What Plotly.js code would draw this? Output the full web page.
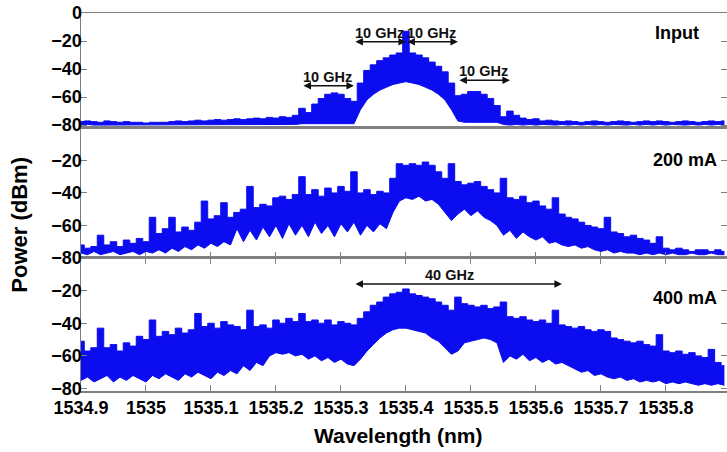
<!DOCTYPE html>
<html><head><meta charset="utf-8">
<script src="https://cdn.plot.ly/plotly-3.0.1.min.js"></script>
<style>html,body{margin:0;padding:0;background:#fff}#chart{width:727px;height:452px}</style>
</head><body><div id="chart"></div>
<script>
// Wavelength sample grid (nm)
const wavelength = [1534.90,1534.91,1534.92,1534.93,1534.94,1534.95,1534.96,1534.97,1534.98,1534.99,
1535.00,1535.01,1535.02,1535.03,1535.04,1535.05,1535.06,1535.07,1535.08,1535.09,
1535.10,1535.11,1535.12,1535.13,1535.14,1535.15,1535.16,1535.17,1535.18,1535.19,
1535.20,1535.21,1535.22,1535.23,1535.24,1535.25,1535.26,1535.27,1535.28,1535.29,
1535.30,1535.31,1535.32,1535.33,1535.34,1535.35,1535.36,1535.37,1535.38,1535.39,
1535.40,1535.41,1535.42,1535.43,1535.44,1535.45,1535.46,1535.47,1535.48,1535.49,
1535.50,1535.51,1535.52,1535.53,1535.54,1535.55,1535.56,1535.57,1535.58,1535.59,
1535.60,1535.61,1535.62,1535.63,1535.64,1535.65,1535.66,1535.67,1535.68,1535.69,
1535.70,1535.71,1535.72,1535.73,1535.74,1535.75,1535.76,1535.77,1535.78,1535.79,
1535.80,1535.81,1535.82,1535.83,1535.84,1535.85,1535.86,1535.87,1535.88,1535.89];

// Input spectrum: upper and lower envelope (dBm)
const inputUpper = [-77.5,-77,-77.5,-78,-77,-77.5,-78,-77.5,-78,-78,
-78.5,-78,-78,-78,-77.5,-77,-77.5,-77,-76.5,-77,
-76.5,-76,-76.5,-76,-75.5,-76,-75.5,-75,-75.5,-74.5,
-75,-74,-74.5,-73,-68,-71,-65,-61,-58,-57,
-58,-61,-63,-50,-41,-37,-34,-32,-30,-28.5,
-13,-28.5,-30,-32,-35,-38,-42,-50,-59,-58,
-56,-56,-58,-61,-66,-74,-70,-73,-75,-76,
-75.5,-77,-76.5,-77,-77.5,-77,-77.5,-78,-77.5,-77,
-77.5,-78,-77.5,-77,-77.5,-78,-77.5,-77,-77.5,-77,
-77.5,-78,-77.5,-77,-77.5,-78,-77.5,-77,-77.5,-77];
const inputLower = [-80,-79.5,-80,-80,-79.5,-80,-79.5,-80,-80,-79.5,
-80,-80,-79.5,-80,-79.5,-80,-80,-79.5,-80,-79.5,
-80,-79.5,-80,-79.5,-80,-79.5,-80,-79.5,-79.5,-80,
-79.5,-80,-79.5,-79.5,-79,-79,-79,-79,-79,-79,
-79,-79,-79,-69,-62,-58,-55,-53,-51,-50,
-49,-50,-51,-53,-55,-58,-62,-69,-77,-78,
-78,-78,-78,-78,-78,-79.5,-80,-79.5,-80,-79.5,
-80,-79.5,-80,-80,-79.5,-80,-79.5,-80,-79.5,-80,
-79.5,-80,-79.5,-80,-80,-79.5,-80,-79.5,-80,-79.5,
-80,-79.5,-80,-80,-79.5,-80,-79.5,-80,-79.5,-80];

// 200 mA spectrum
const mA200Upper = [-72,-74,-73,-66,-72,-70,-73,-69,-71,-68,
-70,-55,-65,-62,-55,-64,-61,-63,-58,-45,
-56,-54,-46,-55,-52,-50,-36,-49,-47,-48,
-43,-42,-44,-41,-30,-41,-38,-42,-37,-40,
-36,-39,-27,-40,-38,-41,-39,-40,-31,-22,
-23,-22,-23,-21,-23,-27,-31,-22,-33,-35,
-34,-33,-36,-38,-40,-31,-43,-44,-42,-46,
-45,-48,-50,-43,-53,-55,-56,-58,-60,-61,
-62,-55,-64,-65,-67,-66,-68,-69,-71,-67,
-74,-75,-74,-75,-76,-75,-75,-76,-75,-76];
const mA200Lower = [-77,-78,-76,-78,-77,-76,-78,-77,-76,-78,
-76,-77,-75,-77,-74,-76,-73,-75,-72,-74,
-71,-73,-70,-72,-62,-70,-63,-69,-61,-67,
-60,-68,-59,-66,-60,-67,-58,-65,-60,-67,
-59,-64,-58,-66,-60,-64,-59,-62,-52,-45,
-43,-44,-42,-45,-44,-47,-52,-57,-53,-50,
-54,-51,-55,-57,-60,-66,-63,-68,-64,-67,
-69,-67,-71,-70,-72,-73,-72,-74,-73,-75,
-76,-75,-77,-76,-77,-77,-78,-77,-78,-77,
-78,-77,-78,-78,-77,-78,-78,-77,-78,-78];

// 400 mA spectrum
const mA400Upper = [-51,-57,-55,-43,-55,-53,-57,-52,-54,-48,
-50,-38,-48,-45,-47,-43,-46,-44,-34,-42,
-40,-43,-39,-41,-42,-44,-32,-42,-41,-43,
-38,-40,-37,-39,-34,-39,-38,-40,-38,-41,
-39,-40,-41,-37,-33,-29,-27,-24,-22,-21,
-19,-22,-23,-24,-25,-27,-29,-32,-24,-28,
-29,-30,-29,-31,-30,-27,-36,-37,-36,-38,
-39,-38,-40,-32,-41,-42,-43,-42,-44,-45,
-44,-45,-49,-50,-51,-52,-51,-53,-54,-47,
-57,-58,-57,-59,-58,-60,-61,-56,-64,-66];
const mA400Lower = [-75,-73,-76,-74,-72,-76,-73,-75,-72,-74,
-76,-72,-74,-71,-73,-75,-71,-73,-70,-72,
-74,-70,-72,-69,-71,-66,-69,-64,-66,-60,
-58,-59,-58,-60,-59,-62,-60,-63,-61,-64,
-62,-65,-66,-62,-57,-53,-49,-46,-44,-43,
-43,-44,-45,-46,-49,-51,-55,-59,-57,-52,
-51,-50,-49,-50,-52,-64,-60,-62,-59,-63,
-61,-64,-62,-65,-64,-66,-68,-70,-69,-72,
-71,-73,-74,-73,-75,-74,-76,-75,-76,-75,
-77,-76,-77,-76,-77,-78,-77,-78,-77,-78];

const panelLabels = ["Input", "200 mA", "400 mA"];
const xTickVals = [1534.9,1535.0,1535.1,1535.2,1535.3,1535.4,1535.5,1535.6,1535.7,1535.8];
const xTickText = ["1534.9","1535","1535.1","1535.2","1535.3","1535.4","1535.5","1535.6","1535.7","1535.8"];
const yTickTop = [0,-20,-40,-60,-80];
const yTickLower = [-20,-40,-60,-80];

// Frequency-span markers
const spanStart = [1535.24, 1535.32, 1535.40, 1535.48, 1535.32];
const spanEnd   = [1535.32, 1535.40, 1535.48, 1535.56, 1535.64];
const spanLevel = [-52, -20.5, -20.5, -48, -16];
const spanText  = ["10 GHz","10 GHz","10 GHz","10 GHz","40 GHz"];
const spanAxis  = ["3","3","3","3",""];

const BLUE = 'rgb(12,12,240)';
const FONT = 'Liberation Sans, Arial, Helvetica, sans-serif';
const GREY = '#808080';

function band(x, lo, hi, xa, ya) {
  return [
    {x: x, y: lo, xaxis: xa, yaxis: ya, type: 'scatter', mode: 'lines',
     line: {color: BLUE, width: 1, shape: 'linear'}, hoverinfo: 'skip', showlegend: false},
    {x: x, y: hi, xaxis: xa, yaxis: ya, type: 'scatter', mode: 'lines', fill: 'tonexty',
     fillcolor: BLUE, line: {color: BLUE, width: 1, shape: 'hvh'}, hoverinfo: 'skip', showlegend: false}
  ];
}

const data = [].concat(
  band(wavelength, inputLower, inputUpper, 'x3', 'y3'),
  band(wavelength, mA200Lower, mA200Upper, 'x2', 'y2'),
  band(wavelength, mA400Lower, mA400Upper, 'x', 'y')
);

const xRange = [1534.9, 1535.894];
const tickFontX = {family: FONT, size: 18, color: '#000', weight: 'bold'};
const tickFontY = {family: FONT, size: 18, color: '#000', weight: 'bold'};

function xax(anchor, opts) {
  return Object.assign({
    anchor: anchor, range: xRange, showgrid: false, zeroline: false,
    showline: true, linecolor: GREY, linewidth: 1.5,
    tickvals: xTickVals, ticktext: xTickText, ticklen: 6, tickcolor: GREY,
    tickfont: tickFontX, ticklabelstandoff: 0
  }, opts);
}
function yax(domain, range, ticks) {
  return {
    domain: domain, range: range, showgrid: false, zeroline: false,
    showline: true, linecolor: GREY, linewidth: 1.5, mirror: 'ticks',
    ticks: 'inside', ticklen: 6, tickcolor: GREY, tickvals: ticks,
    tickfont: tickFontY, ticklabelstandoff: -6
  };
}

const annotations = [];
const labelAxes = [['y3', -14.3, -26], ['y2', -20, -8], ['y', -24.5, -8]];
panelLabels.forEach((t, k) => {
  annotations.push({xref: 'paper', x: 1, xanchor: 'right', xshift: labelAxes[k][2],
    yref: labelAxes[k][0], y: labelAxes[k][1], yanchor: 'middle', showarrow: false,
    text: t, font: {family: FONT, size: 18, color: '#000', weight: 'bold'}});
});
spanStart.forEach((s, k) => {
  const xa = 'x' + spanAxis[k], ya = 'y' + spanAxis[k];
  annotations.push({xref: xa, yref: ya, x: spanEnd[k], y: spanLevel[k],
    axref: xa, ayref: ya, ax: s, ay: spanLevel[k], text: '', showarrow: true,
    arrowside: 'end+start', arrowhead: 2, startarrowhead: 2, arrowsize: 1, startarrowsize: 1,
    arrowwidth: 1.5, arrowcolor: '#111', standoff: 0, startstandoff: 0});
  annotations.push({xref: xa, yref: ya, x: (s + spanEnd[k]) / 2, y: spanLevel[k],
    yanchor: 'bottom', yshift: -1, xshift: (k === 4 ? -8 : 0), showarrow: false, text: spanText[k],
    font: {family: FONT, size: 14.5, color: '#111', weight: 'bold'}});
});
annotations.push({xref: 'paper', yref: 'paper', x: 0, xshift: -61, y: 0.44, textangle: -90,
  xanchor: 'center', yanchor: 'middle', showarrow: false, text: 'Power (dBm)',
  font: {family: FONT, size: 22, color: '#000', weight: 'bold'}});
annotations.push({xref: 'paper', yref: 'paper', x: 0.491, y: 0, yshift: -44,
  xanchor: 'center', yanchor: 'middle', showarrow: false, text: 'Wavelength (nm)',
  font: {family: FONT, size: 21, color: '#000', weight: 'bold'}});

const layout = {
  width: 727, height: 452,
  margin: {l: 81, r: 0, t: 13, b: 61},
  paper_bgcolor: '#fff', plot_bgcolor: '#fff',
  showlegend: false,
  xaxis: xax('y', {ticks: 'inside', mirror: 'ticks'}),
  xaxis2: xax('y2', {matches: 'x', ticks: 'inside', mirror: true, showticklabels: false}),
  xaxis3: xax('y3', {matches: 'x', ticks: '', mirror: true, showticklabels: false}),
  yaxis: yax([0, 0.352], [-81.5, 0], yTickLower),
  yaxis2: yax([0.352, 0.696], [-80, 0], yTickLower),
  yaxis3: yax([0.696, 1], [-82, 0], yTickTop),
  annotations: annotations
};

Plotly.newPlot('chart', data, layout, {staticPlot: true, displayModeBar: false});
</script>
</body></html>
